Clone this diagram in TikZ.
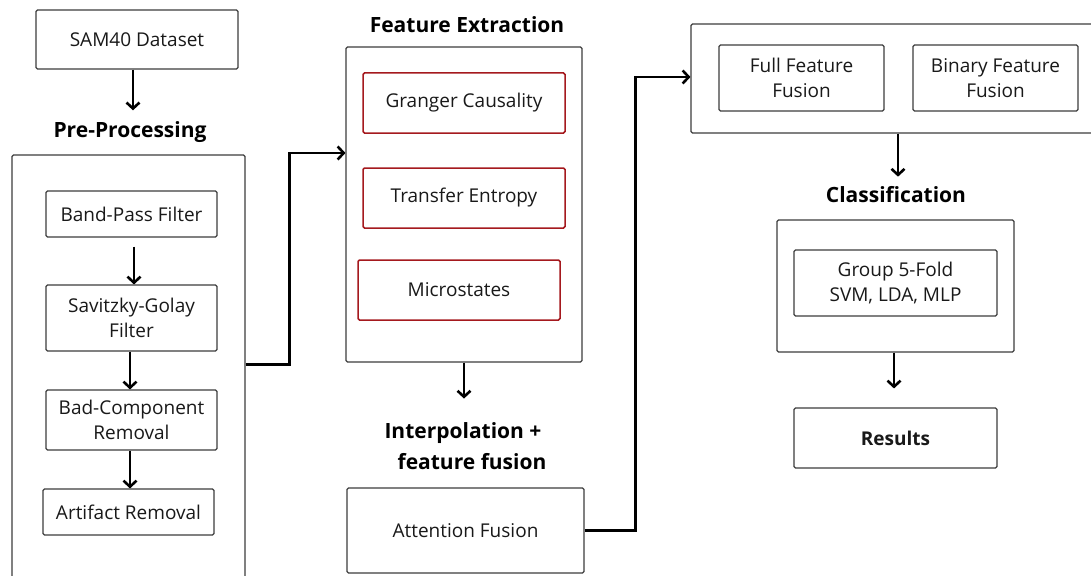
\documentclass[tikz,border=0pt]{standalone}
\usepackage{fontspec}
\setmainfont{Open Sans}
\usetikzlibrary{arrows.meta,calc}
\definecolor{boxgray}{RGB}{60,60,60}
\definecolor{darkred}{RGB}{165,25,30}
\tikzset{
  box/.style={draw=boxgray, line width=1.1pt, rounded corners=1.5pt, align=center,
    inner sep=0pt, font=\fontsize{19}{25}\selectfont, text=black!90},
  redbox/.style={box, draw=darkred, line width=1.5pt},
  outer/.style={draw=boxgray, line width=1.1pt, rounded corners=1.5pt, inner sep=0pt},
  heading/.style={font=\fontsize{21}{28}\selectfont\bfseries, inner sep=0pt, align=center},
  arr/.style={line width=2.6pt, -{Straight Barb[length=6pt,width=13pt,line width=2.6pt]}},
  link/.style={line width=2.6pt, -{Straight Barb[length=6pt,width=13pt,line width=2.6pt]}}
}
\begin{document}
\begin{tikzpicture}[x=1pt,y=-1pt]
\clip (0,0) rectangle (1091,575);
\fill[white] (0,0) rectangle (1091,575);

% ---- pre-processing column ----
\node[box, minimum width=202pt, minimum height=59pt] (sam) at (137,39.5) {SAM40 Dataset};
\node[heading] (preh) at (130,132) {Pre-Processing};
\node[outer, minimum width=233pt, minimum height=425pt] (pre) at (128.5,367.5) {};
\node[box, minimum width=171pt, minimum height=46pt] (bp) at (131.5,214) {Band-Pass Filter};
\node[box, minimum width=171pt, minimum height=66pt] (sg) at (131.5,318) {Savitzky-Golay\\Filter};
\node[box, minimum width=171pt, minimum height=60pt] (bc) at (131.5,420) {Bad-Component\\Removal};
\node[box, minimum width=171pt, minimum height=46pt] (ar) at (128.5,512) {Artifact Removal};

\draw[arr] (sam.south -| 133,0) -- ([yshift=11pt]preh.north -| 133,0);
\draw[arr] ([yshift=-9pt]bp.south -| 134,0) -- (sg.north -| 134,0);
\draw[arr] (sg.south -| 130,0) -- (bc.north -| 130,0);
\draw[arr] (bc.south -| 130,0) -- (ar.north -| 130,0);

% ---- feature extraction column ----
\node[heading] (feh) at (467,25) {Feature Extraction};
\node[outer, minimum width=236pt, minimum height=315pt] (fe) at (464,204.5) {};
\node[redbox, minimum width=202pt, minimum height=60pt] (gc) at (464,103) {Granger Causality};
\node[redbox, minimum width=202pt, minimum height=60pt] (te) at (464,198) {Transfer Entropy};
\node[redbox, minimum width=202pt, minimum height=60pt] (ms) at (459,290) {Microstates};
\node[heading] (ih1) at (463,433) {Interpolation +};
\node[heading] (ih2) at (472,462) {feature fusion};
\node[box, minimum width=237pt, minimum height=85pt] (att) at (465.5,530.5) {Attention Fusion};

\draw[arr] (fe.south -| 464,0) -- ([yshift=-36pt]fe.south -| 464,0);

% ---- fusion / classification column ----
\node[outer, minimum width=410pt, minimum height=109pt] (fus) at (896,78.5) {};
\node[box, minimum width=165pt, minimum height=66pt] (ff) at (801.5,78) {Full Feature\\Fusion};
\node[box, minimum width=165pt, minimum height=66pt] (bf) at (995.5,78) {Binary Feature\\Fusion};
\node[heading] (clh) at (896,195) {Classification};
\node[outer, minimum width=237pt, minimum height=132pt] (cls) at (895.5,286) {};
\node[box, minimum width=203pt, minimum height=66pt] (grp) at (895.5,283) {Group 5-Fold\\SVM, LDA, MLP};
\node[box, minimum width=203pt, minimum height=60pt, font=\fontsize{19}{25}\selectfont\bfseries] (res) at (895.5,438) {Results};

\draw[arr] (fus.south -| 898,0) -- ([yshift=10pt]clh.north -| 898,0);
\draw[arr] (cls.south -| 894,0) -- ([yshift=19pt]res.north -| 894,0);

% ---- cross-column links ----
\draw[link] ([yshift=3pt]pre.east) -- ++(44pt,0) |- ([yshift=51.5pt]fe.west);
\draw[link] (att.east) -- ++(51pt,0) |- ([yshift=1.5pt]fus.west);
\end{tikzpicture}
\end{document}
